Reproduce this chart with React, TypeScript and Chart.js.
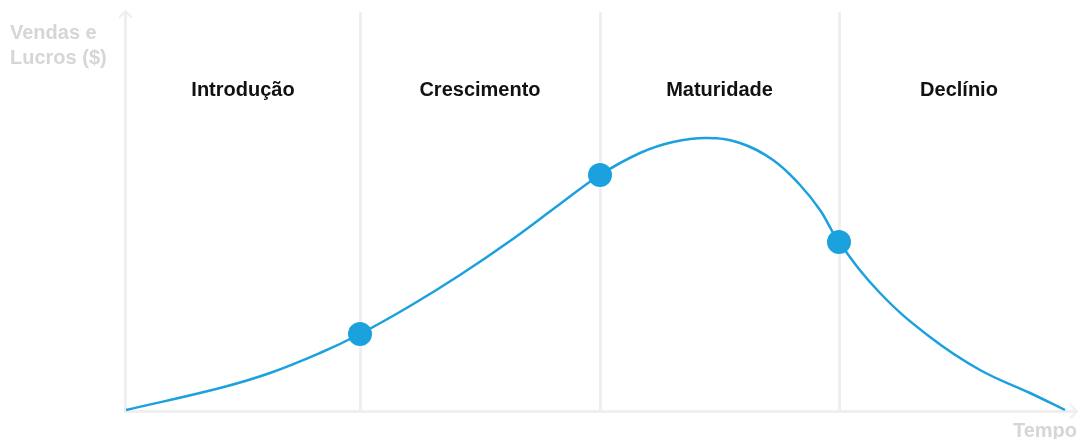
import React, { useEffect, useRef } from "react";
import { Chart, registerables } from "chart.js";

Chart.register(...registerables);

// Stage names and their boundaries on the time axis
const stageLabels = ["Introdução", "Crescimento", "Maturidade", "Declínio"];
const stageBounds = [0, 23.4, 47.4, 71.3, 95.3];

// Sales/profit curve (time, value)
const curveTime = [0, 9.4, 14.4, 19.4, 23.4, 28.4, 33.4, 38.4, 43.4, 47.4, 51.4, 54.7, 58.1, 61.4, 64.7, 67.4, 69.4, 71.3, 75.4, 80.4, 85.4, 90.4, 93.9];
const curveValue = [0.1, 2.3, 3.8, 5.8, 7.7, 10.5, 13.6, 17.0, 20.7, 23.6, 25.8, 26.9, 27.3, 26.8, 25.1, 22.6, 20.1, 16.9, 11.8, 7.4, 4.1, 1.8, 0.1];

// Highlighted points at the stage transitions
const markerTime = [23.4, 47.4, 71.3];
const markerValue = [7.7, 23.6, 16.9];

const yAxisTitle = ["Vendas e", "Lucros ($)"];
const xAxisTitle = "Tempo";

const BLUE = "#1ba1de";
const AXIS = "#efefef";
const FONT = "'Liberation Sans', Arial, sans-serif";

const decorPlugin = {
  id: "decor",
  beforeDatasetsDraw(chart: any) {
    const { ctx, chartArea, scales } = chart;
    const xs = scales.x;
    ctx.save();
    ctx.strokeStyle = AXIS;
    ctx.lineWidth = 3;
    ctx.lineCap = "butt";
    // stage separators
    for (let i = 1; i < stageBounds.length - 1; i++) {
      const px = Math.round(xs.getPixelForValue(stageBounds[i])) + 0.5;
      ctx.beginPath();
      ctx.moveTo(px, chartArea.top + 1);
      ctx.lineTo(px, chartArea.bottom);
      ctx.stroke();
    }
    // y axis with arrow
    const ax = chartArea.left - 0.5;
    ctx.beginPath();
    ctx.moveTo(ax, chartArea.bottom + 1.5);
    ctx.lineTo(ax, chartArea.top);
    ctx.stroke();
    ctx.lineWidth = 2;
    ctx.beginPath();
    ctx.moveTo(ax - 6.5, chartArea.top + 7);
    ctx.lineTo(ax, chartArea.top);
    ctx.lineTo(ax + 6.5, chartArea.top + 7);
    ctx.stroke();
    // x axis with arrow
    ctx.lineWidth = 3;
    const ay = chartArea.bottom + 0.5;
    ctx.beginPath();
    ctx.moveTo(chartArea.left - 2, ay);
    ctx.lineTo(chartArea.right + 1, ay);
    ctx.stroke();
    ctx.lineWidth = 2;
    ctx.beginPath();
    ctx.moveTo(chartArea.right - 6, ay - 7);
    ctx.lineTo(chartArea.right + 1, ay);
    ctx.lineTo(chartArea.right - 6, ay + 7);
    ctx.stroke();
    ctx.restore();
  },
  afterDraw(chart: any) {
    const { ctx, scales } = chart;
    const xs = scales.x;
    ctx.save();
    ctx.font = `bold 20px ${FONT}`;
    ctx.textBaseline = "alphabetic";
    // stage labels
    ctx.fillStyle = "#111111";
    ctx.textAlign = "center";
    for (let i = 0; i < stageLabels.length; i++) {
      const a = xs.getPixelForValue(stageBounds[i]);
      const b = xs.getPixelForValue(stageBounds[i + 1]);
      ctx.fillText(stageLabels[i], (a + b) / 2, 96);
    }
    // axis titles
    ctx.fillStyle = "#d6d6d6";
    ctx.textAlign = "left";
    yAxisTitle.forEach((t, i) => ctx.fillText(t, 10, 39 + i * 25));
    ctx.textAlign = "right";
    ctx.fillText(xAxisTitle, 1077, 437);
    ctx.restore();
  },
};

export default function App() {
  const ref = useRef<HTMLCanvasElement>(null);
  useEffect(() => {
    if (!ref.current) return;
    const chart = new Chart(ref.current, {
      type: "line",
      data: {
        datasets: [
          {
            data: markerTime.map((t, i) => ({ x: t, y: markerValue[i] })),
            showLine: false,
            pointRadius: 12,
            pointHoverRadius: 12,
            pointBackgroundColor: BLUE,
            pointBorderColor: BLUE,
            pointBorderWidth: 0,
            clip: false,
          } as any,
          {
            data: curveTime.map((t, i) => ({ x: t, y: curveValue[i] })),
            borderColor: BLUE,
            borderWidth: 2.5,
            pointRadius: 0,
            tension: 0.4,
            fill: false,
            clip: false,
          } as any,
        ],
      },
      options: {
        animation: false,
        responsive: false,
        maintainAspectRatio: false,
        layout: { autoPadding: false, padding: { left: 126, right: 3, top: 11, bottom: 28 } },
        plugins: { legend: { display: false }, tooltip: { enabled: false } },
        scales: {
          x: { type: "linear", min: 0, max: 95, display: false },
          y: { type: "linear", min: 0, max: 40, display: false },
        },
      },
      plugins: [decorPlugin],
    });
    return () => chart.destroy();
  }, []);
  return (
    <div style={{ position: "fixed", left: 0, top: 0, width: 1079, height: 439, background: "#fff" }}>
      <canvas ref={ref} width={1079} height={439} style={{ display: "block" }} />
    </div>
  );
}
